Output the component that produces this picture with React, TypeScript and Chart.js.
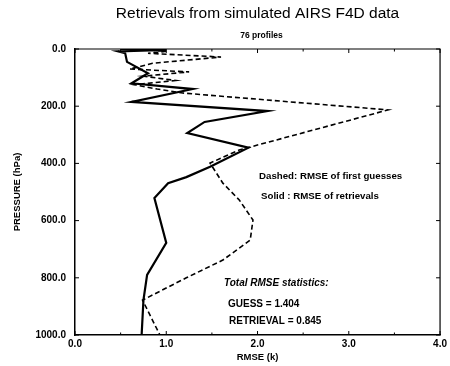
import { useEffect, useRef } from "react";
import { Chart, registerables } from "chart.js";

Chart.register(...registerables);

// RMSE profiles (K) against pressure (hPa)
const retrievalPressure = [0, 3, 8, 15, 45, 85, 120, 140, 185, 217, 255, 294, 345, 412, 448, 469, 521, 678, 790, 878, 1000];
const retrievalRmse = [0.5, 1.0, 0.47, 0.55, 0.57, 0.8, 0.62, 1.29, 0.62, 2.11, 1.42, 1.23, 1.9, 1.48, 1.22, 1.02, 0.87, 1.0, 0.79, 0.75, 0.73];

const guessPressure = [0, 8, 15, 28, 50, 70, 80, 95, 110, 125, 140, 154, 213, 353, 399, 469, 528, 598, 668, 738, 800, 878, 1000];
const guessRmse = [0.65, 1.0, 0.8, 1.6, 0.85, 0.6, 1.25, 0.75, 1.1, 0.65, 0.9, 1.18, 3.43, 1.8, 1.48, 1.62, 1.8, 1.95, 1.92, 1.62, 1.22, 0.74, 0.93];

const rmseTicks = [0, 1, 2, 3, 4];
const pressureTicks = [0, 200, 400, 600, 800, 1000];

const titleText = "Retrievals from simulated AIRS F4D data";
const subtitleText = "76 profiles";
const legendLines = ["Dashed: RMSE of first guesses", "Solid : RMSE of retrievals"];
const statsHeader = "Total RMSE statistics:";
const statsLines = ["GUESS = 1.404", "RETRIEVAL = 0.845"];

const FONT = "'Liberation Sans', Arial, Helvetica, sans-serif";

const toPoints = (xs: number[], ps: number[]) => xs.map((x, i) => ({ x, y: ps[i] }));

const framePlugin = {
  id: "frameAndNotes",
  afterDraw(chart: any) {
    const { ctx, chartArea, scales } = chart;
    const { left, right, top, bottom } = chartArea;
    const xs = scales.x;
    const ys = scales.y;
    ctx.save();
    ctx.strokeStyle = "#000";
    ctx.fillStyle = "#000";

    // top and right frame lines
    ctx.lineWidth = 1.2;
    ctx.beginPath();
    ctx.moveTo(left, top);
    ctx.lineTo(right, top);
    ctx.lineTo(right, bottom);
    ctx.stroke();

    // inward tick marks
    ctx.lineWidth = 1;
    ctx.beginPath();
    for (const p of pressureTicks) {
      const y = ys.getPixelForValue(p);
      ctx.moveTo(left, y);
      ctx.lineTo(left + 4, y);
      ctx.moveTo(right, y);
      ctx.lineTo(right - 4, y);
    }
    for (let v = 0; v <= 4; v += 0.5) {
      const x = xs.getPixelForValue(v);
      const len = Number.isInteger(v) ? 4 : 2.5;
      ctx.moveTo(x, bottom);
      ctx.lineTo(x, bottom - len);
      ctx.moveTo(x, top);
      ctx.lineTo(x, top + len);
    }
    ctx.stroke();

    const cx = (left + right) / 2;
    ctx.textBaseline = "middle";
    ctx.textAlign = "center";
    ctx.font = `15.5px ${FONT}`;
    ctx.fillText(titleText, cx, 14);
    ctx.font = `bold 8.5px ${FONT}`;
    ctx.fillText(subtitleText, cx + 4, 36);

    ctx.textAlign = "left";
    ctx.font = `bold 9.7px ${FONT}`;
    ctx.fillText(legendLines[0], 259, 176);
    ctx.fillText(legendLines[1], 261, 196);

    ctx.font = `italic bold 10px ${FONT}`;
    ctx.fillText(statsHeader, 224, 283);
    ctx.font = `bold 10px ${FONT}`;
    ctx.fillText(statsLines[0], 228, 304);
    ctx.fillText(statsLines[1], 229, 321);
    ctx.restore();
  },
};

export default function App() {
  const canvasRef = useRef<HTMLCanvasElement | null>(null);

  useEffect(() => {
    const canvas = canvasRef.current;
    if (!canvas) return;
    const chart = new Chart(canvas, {
      type: "scatter",
      data: {
        datasets: [
          {
            label: "First guess",
            data: toPoints(guessRmse, guessPressure),
            showLine: true,
            borderColor: "#000",
            borderWidth: 1.6,
            borderDash: [5, 3],
            pointRadius: 0,
            tension: 0,
          },
          {
            label: "Retrieval",
            data: toPoints(retrievalRmse, retrievalPressure),
            showLine: true,
            borderColor: "#000",
            borderWidth: 2.2,
            pointRadius: 0,
            tension: 0,
          },
        ],
      },
      options: {
        responsive: false,
        animation: false,
        layout: { padding: { top: 49, right: 9, bottom: 0, left: 0 } },
        plugins: {
          legend: { display: false },
          tooltip: { enabled: false },
          title: { display: false },
        },
        scales: {
          x: {
            type: "linear",
            min: 0,
            max: 4,
            afterFit: (s: any) => {
              s.height = 31;
            },
            afterBuildTicks: (s: any) => {
              s.ticks = rmseTicks.map((value) => ({ value }));
            },
            grid: { display: true, drawOnChartArea: false, drawTicks: false },
            border: { display: true, color: "#000", width: 1.5 },
            ticks: {
              padding: 3,
              color: "#000",
              font: { family: FONT, size: 10, weight: "bold" },
              callback: (v: any) => Number(v).toFixed(1),
              maxRotation: 0,
            },
            title: {
              display: true,
              text: "RMSE (k)",
              color: "#000",
              font: { family: FONT, size: 9.5, weight: "bold" },
              padding: { top: 0, bottom: 3 },
            },
          },
          y: {
            type: "linear",
            reverse: true,
            min: 0,
            max: 1000,
            afterFit: (s: any) => {
              s.width = 75;
            },
            afterBuildTicks: (s: any) => {
              s.ticks = pressureTicks.map((value) => ({ value }));
            },
            grid: { display: true, drawOnChartArea: false, drawTicks: false },
            border: { display: true, color: "#000", width: 1.5 },
            ticks: {
              padding: 9,
              color: "#000",
              font: { family: FONT, size: 10, weight: "bold" },
              callback: (v: any) => Number(v).toFixed(1),
            },
            title: {
              display: true,
              text: "PRESSURE (hPa)",
              color: "#000",
              font: { family: FONT, size: 9.5, weight: "bold" },
              padding: { top: 12, bottom: 0 },
            },
          },
        },
      },
      plugins: [framePlugin],
    });
    return () => chart.destroy();
  }, []);

  return (
    <div style={{ position: "fixed", left: 0, top: 0, width: 450, height: 366, background: "#fff" }}>
      <canvas ref={canvasRef} width={450} height={366} />
    </div>
  );
}
